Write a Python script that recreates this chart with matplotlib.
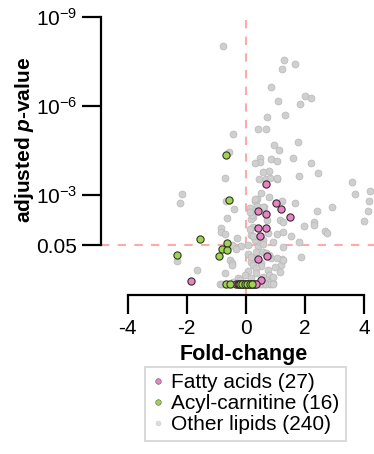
import matplotlib
matplotlib.use("Agg")
import matplotlib.pyplot as plt
from matplotlib.lines import Line2D
import numpy as np

plt.rcParams['font.family'] = ['Liberation Sans', 'DejaVu Sans']
plt.rcParams['mathtext.fontset'] = 'custom'
plt.rcParams['mathtext.rm'] = 'Liberation Sans'
plt.rcParams['mathtext.it'] = 'Liberation Sans:italic'
plt.rcParams['mathtext.bf'] = 'Liberation Sans:bold'
plt.rcParams['mathtext.bfit'] = 'Liberation Sans:italic:bold'
plt.rcParams['axes.unicode_minus'] = False

# %% --- DATOS (fold-change, -log10 p ajustado) ---

fa_fc = [0.69, 1.01, 1.18, 0.42, 0.67, 1.51, 0.41, 0.70, 0.47, 0.73, 0.42, -1.87, 0.50,
         -0.33, -0.28, -0.22, -0.17, -0.12, -0.06, 0.00, 0.05, 0.10, 0.16, 0.21, 0.26, 0.31, 0.36]
fa_nlp = [3.37, 2.72, 2.52, 2.47, 2.36, 2.27, 1.90, 1.89, 1.62, 0.94, 0.85, 0.09, 0.15,
          0, 0, 0, 0, 0, 0, 0, 0, 0, 0, 0, 0, 0, 0]

ac_fc = [-0.68, -0.57, -1.54, -0.65, -0.79, -0.62, -2.34, -0.90,
         -0.67, -0.53, -0.20, -0.12, -0.04, 0.05, 0.13, 0.22]
ac_nlp = [4.36, 2.83, 1.52, 1.38, 1.19, 1.16, 0.99, 0.93,
          0, 0, 0, 0, 0, 0, 0, 0]

ot_fc = [-0.78, 1.28, 1.65, 1.21, 0.84, 1.99, 2.21, 1.08, 1.85, 1.34, 0.73, 0.41, 0.68, -0.42,
         0.96, 1.77, 1.11, -0.57, 0.48, 0.47, 0.31, 0.87, 1.06, 1.61, 2.20, 0.78, 0.57, 1.80,
         2.44, -0.69, 0.46, 0.67, 1.04, 0.51, 0.79, 0.38, 0.30, -0.68, 1.23, 1.67, -0.40, 0.14,
         0.61, 0.23, 0.71, -0.65, 1.17, 1.26, 2.42, 2.92, 3.59, 3.71, 4.22, 4.17, 4.15, 4.00,
         2.32, 1.96, 2.69, 2.74, -0.84, -0.84, -0.72, 0.26, 0.74, 1.07, 1.26, 1.52, 0.16, 0.44,
         -0.29, -0.46, -0.17, 1.27, 0.40, 0.08, 0.33, -0.52, -0.46, 0.52, 0.51, 1.23, 1.19, 1.86,
         0.58, 0.70, 0.17, 0.25, 0.36, 0.08, -1.65, 0.75, 0.79, -0.25, -2.16, -2.22, 0.19, 0.42,
         -2.33, 1.81, 0.87, 0.81, 0.92, -0.71, 0.58, 0.68, 0.36, -0.03, 0.19, -0.20, -0.43, 0.81,
         -0.34, -0.45, 0.19, 0.30, 0.08, 0.58, 0.92, 0.79, 1.04, 1.26, 0.98, 1.15, 0.92, 0.81,
         1.04, 0.30, 0.38, 0.59, 0.20, 0.13, 2.30, 0.25, 0.13, 0.58,
         -0.88, -0.80, -0.72, -0.60, -0.45, -0.38, -0.30, -0.22, -0.10, 0.00, 0.10, 0.20,
         0.30, 0.40, 0.46, 0.52, 0.58, 0.64, 0.70, 0.78, 0.85, 0.92]
ot_nlp = [8.01, 7.54, 7.42, 7.24, 6.65, 6.34, 6.26, 6.18, 6.06, 5.70, 5.63, 5.21, 5.22, 5.05,
          4.70, 4.80, 4.51, 4.44, 4.26, 4.12, 4.07, 4.22, 4.16, 4.25, 4.07, 3.82, 3.77, 3.65,
          3.75, 3.56, 3.55, 3.54, 3.54, 3.06, 2.94, 2.86, 2.80, 2.80, 2.79, 2.72, 2.54, 2.55,
          2.60, 2.27, 2.16, 2.21, 2.15, 2.09, 2.45, 2.59, 3.45, 3.03, 3.13, 2.81, 2.45, 2.13,
          2.08, 1.95, 1.80, 1.73, 1.89, 1.75, 1.69, 1.91, 1.71, 1.70, 1.75, 1.61, 1.65, 1.48,
          1.56, 1.30, 1.28, 1.24, 1.27, 1.01, 1.08, 0.81, 0.70, 0.72, 0.61, 0.85, 0.65, 0.91,
          1.09, 1.04, 0.75, 0.64, 0.55, 0.44, 0.46, 0.47, 0.30, 0.21, 3.02, 2.72, 2.20, 1.45,
          0.78, 1.41, 0.87, 0.14, 0.02, 0.36, 0.25, 0.14, 0.36, 0.30, 0.19, 0.14, 0.08, 0.08,
          1.19, 0.63, 0.92, 1.48, 1.31, 1.48, 1.43, 0.98, 0.87, 0.81, 0.58, 0.42, 0.25, 3.56,
          3.56, 2.87, 2.62, 2.60, 2.34, 2.42, 2.00, 1.63, 1.85, 1.35,
          0, 0, 0, 0, 0, 0, 0, 0, 0, 0, 0, 0,
          0, 0, 0, 0, 0, 0, 0, 0, 0, 0]

ytick_vals = [-np.log10(0.05), 3, 6, 9]
ytick_labs = ['0.05', '$10^{-3}$', '$10^{-6}$', '$10^{-9}$']
xtick_vals = [-4, -2, 0, 2, 4]

col_fa = '#e585c3'
col_ac = '#a2d157'
col_ot = '#cfcfcf'

# %% --- GRAFICO ---

fig = plt.figure(figsize=(3.74, 4.54), dpi=100)
ax = fig.add_axes([101/374, 1 - 295/454, 273/374, 279/454])

ax.axvline(0, color='#ffaaaa', lw=1.5, ls=(0, (4, 4)), zorder=1)
ax.axhline(-np.log10(0.05), color='#ffaaaa', lw=1.5, ls=(0, (4, 4)), zorder=1)

ax.scatter(ot_fc, ot_nlp, s=25, color=col_ot, edgecolor='#b8b8b8', linewidth=0.5, zorder=2)
ax.scatter(fa_fc, fa_nlp, s=27, color=col_fa, edgecolor='#3a2a33', linewidth=0.8, zorder=3)
ax.scatter(ac_fc, ac_nlp, s=27, color=col_ac, edgecolor='#2d3a1e', linewidth=0.8, zorder=4)

ax.set_xlim(-4.9, 4.34)
ax.set_ylim(-0.37, 9.03)

for s in ['top', 'right']:
    ax.spines[s].set_visible(False)
ax.spines['left'].set_bounds(-np.log10(0.05), 9)
ax.spines['bottom'].set_bounds(-4, 4)
ax.spines['left'].set_linewidth(1.6)
ax.spines['bottom'].set_linewidth(1.6)

ax.set_yticks(ytick_vals)
ax.set_yticklabels(ytick_labs)
ax.set_xticks(xtick_vals)
ax.tick_params(axis='both', length=14, width=1.6, labelsize=15, pad=3)

ax.set_xlabel('Fold-change', fontsize=15.5, fontweight='bold')
ax.xaxis.set_label_coords(0.522, -0.175)
ax.set_ylabel(r'adjusted $\mathbfit{p}$-value', fontsize=15, fontweight='bold')
ax.yaxis.set_label_coords(-0.238, 0.556)

handles = [
    Line2D([], [], ls='none', marker='o', markersize=4, color=col_fa, markeredgecolor='#555555', markeredgewidth=0.4),
    Line2D([], [], ls='none', marker='o', markersize=4, color=col_ac, markeredgecolor='#555555', markeredgewidth=0.4),
    Line2D([], [], ls='none', marker='o', markersize=3.5, color='#dddddd', markeredgecolor='#cccccc', markeredgewidth=0.4),
]
labels = ['Fatty acids (27)', 'Acyl-carnitine (16)', 'Other lipids (240)']
leg = fig.legend(handles, labels, loc='upper center', bbox_to_anchor=(245.5/374, 1 - 367/454),
                 fontsize=15, frameon=True, fancybox=False, edgecolor='#c8c8c8',
                 handlelength=0.6, handletextpad=0.35, labelspacing=0.1, borderpad=0.3,
                 borderaxespad=0)
leg.get_frame().set_linewidth(1.2)

fig.savefig('out.png', dpi=100)
